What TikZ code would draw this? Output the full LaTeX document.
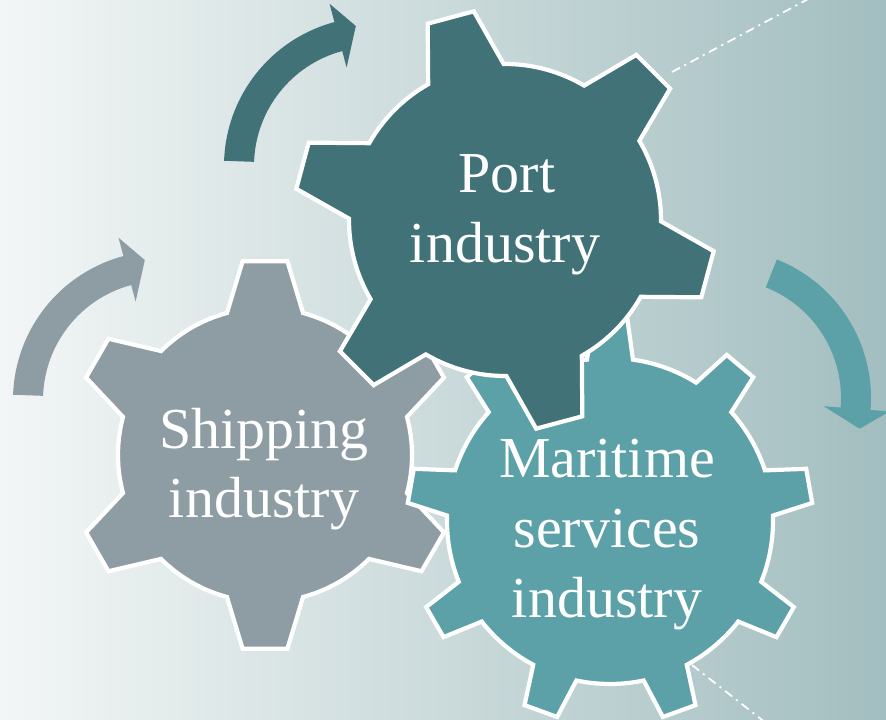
\documentclass[tikz,border=0pt]{standalone}
\usepackage{fontspec}
\setmainfont{Liberation Serif}
\definecolor{bgL}{RGB}{243,246,246}
\definecolor{bgM}{RGB}{210,222,223}
\definecolor{bgR}{RGB}{163,190,192}
\definecolor{shipcol}{RGB}{142,157,164}
\definecolor{portcol}{RGB}{65,114,119}
\definecolor{marcol}{RGB}{92,161,168}
\begin{document}
\begin{tikzpicture}[x=1pt,y=1pt,
  gearline/.style={draw=white, line width=4.2pt, line join=miter},
  lbl/.style={text=white, font=\fontsize{58}{70}\selectfont, anchor=base, inner sep=0pt},
  dd/.style={draw=white, line width=1.8pt, dash pattern=on 9pt off 5pt on 2pt off 5pt}]
\useasboundingbox (0,0) rectangle (886,720);
\clip (0,0) rectangle (886,720);
\shade[left color=bgL, middle color=bgM, right color=bgR] (0,0) rectangle (886,720);

% dash-dot leader lines
\coordinate (t1) at (672,648); \coordinate (t2) at (812,723);
\draw[dd] (t1) -- (t2);
\coordinate (b1) at (692,55); \coordinate (b2) at (766,-3);
\draw[dd] (b1) -- (b2);

% curved arrows
\begin{scope}[shift={(162,320)}]
\fill[shipcol] (178:149) arc[start angle=178, end angle=105, radius=149] -- (105:168) -- (97:141) -- (105:102) -- (105:119) arc[start angle=105, end angle=178, radius=119] -- cycle;
\end{scope}
\begin{scope}[shift={(373,554)}]
\fill[portcol] (178:149) arc[start angle=178, end angle=105, radius=149] -- (105:168) -- (97:141) -- (105:102) -- (105:119) arc[start angle=105, end angle=178, radius=119] -- cycle;
\end{scope}
\begin{scope}[shift={(722,322)}, rotate=-109.6]
\fill[marcol] (178:149) arc[start angle=178, end angle=105, radius=149] -- (105:168) -- (97:141) -- (105:102) -- (105:119) arc[start angle=105, end angle=178, radius=119] -- cycle;
\end{scope}

% shipping gear
\begin{scope}[shift={(265,265)}]
\filldraw[fill=shipcol, gearline] (15:147)
  \foreach \k in {0,...,5}{ -- ({30+60*\k-6.6}:195) -- ({30+60*\k+6.6}:195) -- ({30+60*\k+15}:147)
    arc[start angle={30+60*\k+15}, end angle={30+60*(\k+1)-15}, radius=147] } -- cycle;
\end{scope}
% maritime gear
\begin{scope}[shift={(610,199)}]
\filldraw[fill=marcol, gearline] (1.9:163)
  \foreach \k in {0,...,8}{ -- ({10+40*\k-4.9}:203) -- ({10+40*\k+4.9}:203) -- ({10+40*\k+8.1}:163)
    arc[start angle={10+40*\k+8.1}, end angle={10+40*(\k+1)-8.1}, radius=163] } -- cycle;
\end{scope}
% port gear
\begin{scope}[shift={(505,500)}]
\filldraw[fill=portcol, gearline] (30.5:156)
  \foreach \k in {0,...,5}{ -- ({45+60*\k-6.5}:211) -- ({45+60*\k+6.5}:211) -- ({45+60*\k+14.5}:156)
    arc[start angle={45+60*\k+14.5}, end angle={45+60*(\k+1)-14.5}, radius=156] } -- cycle;
\end{scope}

% labels
\node[lbl] (s1) at (264,271) {Shipping};
\node[lbl] (s2) at (264,202) {industry};
\node[lbl] (p1) at (507,527) {Port};
\node[lbl] (p2) at (505,457) {industry};
\node[lbl] (m1) at (607,242) {Maritime};
\node[lbl] (m2) at (607,172) {services};
\node[lbl] (m3) at (607,102) {industry};
\end{tikzpicture}
\end{document}
